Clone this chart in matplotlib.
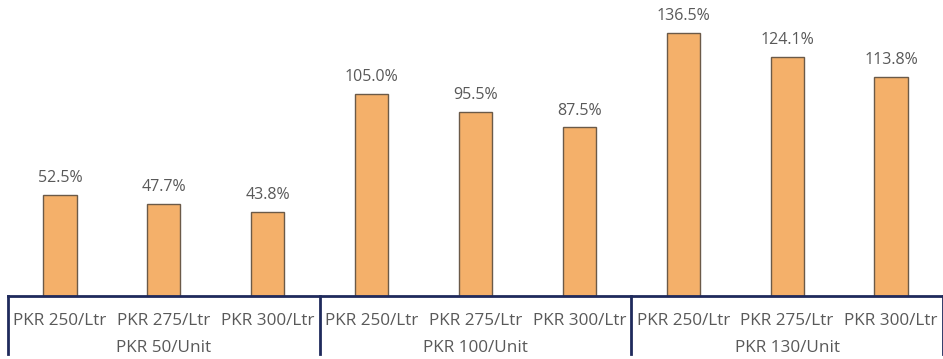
import matplotlib.pyplot as plt

prices = ["PKR 250/Ltr", "PKR 275/Ltr", "PKR 300/Ltr"]
groups = ["PKR 50/Unit", "PKR 100/Unit", "PKR 130/Unit"]
values = [52.5, 47.7, 43.8, 105.0, 95.5, 87.5, 136.5, 124.1, 113.8]

plt.rcParams['font.family'] = ['Open Sans', 'DejaVu Sans']
W, H = 943, 359
fig = plt.figure(figsize=(W / 100, H / 100), dpi=100)
ax = fig.add_axes([8 / W, 1 - 296 / H, 935 / W, (296 - 7) / H])

x = list(range(len(values)))
ax.bar(x, values, width=0.32, color="#F4B06A", edgecolor="#6b5a48", linewidth=1)
for xi, v in zip(x, values):
    ax.text(xi, v + 4.5, f"{v:.1f}%", ha="center", va="bottom", fontsize=11.5, color="#595959")

ax.set_xlim(-0.5, len(values) - 0.5)
ax.set_ylim(0, 150)
for s in ["top", "left", "right"]:
    ax.spines[s].set_visible(False)
ax.spines["bottom"].set_color("#1f2a5c")
ax.spines["bottom"].set_linewidth(2)
ax.set_yticks([])
ax.set_xticks(x)
ax.set_xticklabels(prices * 3, fontsize=12.3, color="#595959")
ax.tick_params(axis="x", length=0, pad=12)

navy = "#1f2a5c"
for i in range(4):
    xs = i * 3 - 0.5
    ax.plot([xs, xs], [0, -0.2], transform=ax.get_xaxis_transform(), color=navy,
            linewidth=2, clip_on=False)
for i, g in enumerate(groups):
    ax.text(i * 3 + 1, -52 / 289, g, transform=ax.get_xaxis_transform(), ha="center",
            va="center", fontsize=12.3, color="#595959")

fig.savefig("out.png", dpi=100)
